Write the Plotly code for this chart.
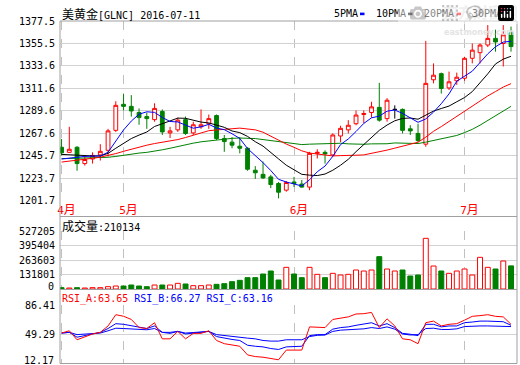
import plotly.graph_objects as go

# ---------------- data ----------------
dates = ['2016-04-20', '2016-04-21', '2016-04-22', '2016-04-25', '2016-04-26', '2016-04-27', '2016-04-28', '2016-04-29',
         '2016-05-02', '2016-05-03', '2016-05-04', '2016-05-05', '2016-05-06', '2016-05-09', '2016-05-10', '2016-05-11',
         '2016-05-12', '2016-05-13', '2016-05-16', '2016-05-17', '2016-05-18', '2016-05-19', '2016-05-20', '2016-05-23',
         '2016-05-24', '2016-05-25', '2016-05-26', '2016-05-27', '2016-05-30', '2016-05-31',
         '2016-06-01', '2016-06-02', '2016-06-03', '2016-06-06', '2016-06-07', '2016-06-08', '2016-06-09', '2016-06-10',
         '2016-06-13', '2016-06-14', '2016-06-15', '2016-06-16', '2016-06-17', '2016-06-20', '2016-06-21', '2016-06-22',
         '2016-06-23', '2016-06-24', '2016-06-27', '2016-06-28', '2016-06-29', '2016-06-30',
         '2016-07-01', '2016-07-04', '2016-07-05', '2016-07-06', '2016-07-07', '2016-07-08', '2016-07-11']

open_ = [1254, 1249, 1254, 1238, 1242.5, 1246.5, 1251, 1270.5, 1296, 1294, 1288, 1284, 1281, 1289, 1268, 1271,
         1281, 1268, 1274, 1277, 1285, 1262.5, 1259, 1255, 1253, 1231.5, 1227.5, 1225, 1218.5, 1212,
         1220, 1218, 1215, 1248, 1249, 1246.5, 1265, 1271, 1277, 1286, 1288, 1293, 1282, 1291, 1291, 1272,
         1267.5, 1257, 1320, 1326, 1312, 1319, 1321.5, 1341, 1346.5, 1354, 1360.5, 1355.5, 1366]
high = [1262, 1274, 1255, 1246, 1249, 1257, 1272, 1299, 1306, 1305, 1292, 1288, 1297, 1291, 1274, 1283,
        1284, 1279, 1291, 1286, 1286, 1266, 1264, 1264, 1254, 1235.5, 1240, 1227, 1220, 1221,
        1225, 1222, 1249.5, 1252, 1251, 1267.5, 1275, 1280.5, 1290, 1290, 1298.5, 1317, 1302, 1295, 1292, 1275.5,
        1277, 1358, 1336, 1327, 1328, 1327, 1342.5, 1355.5, 1355.5, 1373.5, 1369, 1373.5, 1372]
low = [1246, 1248.5, 1231, 1236, 1238, 1241, 1245, 1269, 1290, 1284, 1276, 1272, 1279, 1266, 1263, 1269,
       1266, 1266, 1272, 1272, 1261, 1249.5, 1253, 1248, 1231, 1223, 1223, 1214, 1204, 1210.5,
       1215, 1214.5, 1212, 1243, 1238, 1245, 1259, 1267.5, 1275.5, 1277.5, 1283, 1279, 1279, 1282, 1267.5, 1266,
       1259, 1254.5, 1316.5, 1306.5, 1310, 1315, 1319, 1336, 1336, 1352, 1347.5, 1333, 1347.5]
close = [1248.5, 1252, 1238, 1242, 1246, 1250, 1270, 1295, 1294, 1289.5, 1283, 1282, 1292, 1269, 1270, 1280.5,
         1267.5, 1276, 1276, 1282, 1262.5, 1259.5, 1256, 1253, 1232.5, 1229, 1224, 1217.5, 1210, 1219.5,
         1218.5, 1215, 1248, 1249, 1247.5, 1266, 1272.5, 1275.5, 1285.5, 1287, 1293.5, 1280.5, 1300, 1291, 1270.5, 1270,
         1260.5, 1316.5, 1324.5, 1311.5, 1318, 1322.5, 1341, 1349, 1354, 1360.5, 1357, 1364, 1352.5]

ma5 = [1242.5, 1243.5, 1244.5, 1245, 1245.3, 1245.5, 1249.1, 1260.5, 1270.9, 1279.6, 1286.3, 1288.7, 1288.1, 1283.1,
       1279.2, 1278.7, 1275.8, 1272.6, 1274, 1276.4, 1272.8, 1271.2, 1267.2, 1262.6, 1252.7, 1246, 1238.9, 1231.2,
       1222.6, 1220, 1217.9, 1216.1, 1222.2, 1230, 1235.6, 1245.1, 1256.6, 1262.1, 1269.4, 1277.3, 1282.8, 1284.4,
       1289.3, 1290.4, 1287.1, 1282.4, 1278.4, 1281.7, 1288.4, 1296.6, 1306.2, 1318.6, 1323.5, 1328.4, 1336.9,
       1345.4, 1352.3, 1356.9, 1357.6]
ma10 = [1247, 1246.5, 1246.2, 1246, 1245.5, 1245.5, 1248, 1253, 1258, 1262.5, 1265.9, 1268.9, 1274.3, 1277,
        1279.4, 1282.5, 1282.3, 1280.4, 1278.6, 1277.8, 1275.8, 1273.5, 1269.9, 1268.3, 1264.6, 1259.4, 1255.1,
        1249.2, 1242.6, 1236.4, 1232, 1227.5, 1226.7, 1226.3, 1227.8, 1231.5, 1236.4, 1242.2, 1249.7, 1256.5, 1264,
        1270.5, 1275.7, 1279.9, 1282.2, 1282.6, 1281.4, 1285.5, 1289.4, 1291.9, 1294.3, 1298.5, 1302.6, 1308.4,
        1316.8, 1325.8, 1335.5, 1340.2, 1343]
ma20 = [1239.5, 1240.3, 1241.3, 1242.3, 1243.2, 1244.3, 1245.7, 1247.8, 1250, 1252.2, 1254.3, 1256, 1257.6,
        1258.8, 1260, 1261.5, 1263.5, 1265.5, 1268, 1270.2, 1270.9, 1271.2, 1272.1, 1272.7, 1272, 1271, 1268.7,
        1264.8, 1260.6, 1257.1, 1253.9, 1250.5, 1248.3, 1247.3, 1246.2, 1245.5, 1245.8, 1245.7, 1246.2, 1246.5,
        1248, 1249, 1251.2, 1253.1, 1255, 1257.1, 1258.9, 1263.9, 1269.6, 1274.2, 1279.2, 1284.5, 1289.2, 1294.2,
        1299.5, 1304.2, 1308.5, 1312.9, 1316.2]
ma30 = [1242.8, 1243, 1243.2, 1243.4, 1243.6, 1243.8, 1244.2, 1245, 1246.3, 1247.3, 1248.3, 1249, 1250, 1251.5,
        1253, 1254.8, 1256.5, 1258, 1259.3, 1260.3, 1261.2, 1262, 1262.7, 1263, 1263, 1262.5, 1261.5, 1260.5,
        1259.6, 1258.9, 1257.9, 1256.6, 1257, 1257.2, 1257.3, 1257.8, 1257.9, 1257.3, 1257, 1256.9, 1257.3, 1257.2,
        1257.4, 1258.2, 1258.2, 1257.8, 1257.6, 1259, 1260.6, 1261.6, 1263.4, 1265.5, 1268.3, 1271.5, 1275.6,
        1280, 1284.4, 1289.3, 1294]

volume = [12120, 9090, 12120, 9090, 12120, 12120, 21210, 27270, 27270, 36360, 27270, 21210, 36360, 36360, 36360,
          51510, 45450, 30300, 30300, 36360, 42420, 48480, 66660, 78780, 103020, 103020, 136350, 163620, 81810,
          196950, 136350, 103020, 196950, 133320, 103020, 142410, 127260, 133320, 172710, 163620, 172710, 293910,
          181800, 163620, 172710, 118170, 127260, 460560, 209070, 163620, 142410, 163620, 181800, 127260, 287850,
          196950, 181800, 254520, 210134]

rsi_a = [50.5, 53.4, 41.9, 45.2, 49.3, 51.4, 59.6, 74.0, 72.0, 67.9, 57.5, 56.3, 63.7, 43.1, 43.1, 52.6, 43.1,
         50.1, 50.1, 53.4, 41.0, 36.9, 35.7, 33.6, 22.5, 20.4, 19.6, 17.5, 16.3, 28.7, 28.7, 28.7, 58.4, 58.4,
         57.5, 67.9, 69.9, 71.2, 74.9, 75.3, 76.9, 57.5, 68.7, 59.6, 43.1, 41.9, 36.9, 63.8, 65.8, 59.6, 61.7,
         62.5, 67.0, 71.9, 72.8, 74.0, 71.9, 71.2, 61.7]
rsi_b = [50.5, 51.4, 45.2, 47.2, 49.7, 51.4, 56.3, 62.5, 61.7, 59.6, 57.5, 56.3, 59.6, 51.4, 50.1, 52.6, 49.3,
         50.5, 51.4, 52.6, 46.0, 44.0, 42.3, 41.0, 34.9, 33.6, 32.8, 30.7, 29.5, 32.8, 32.8, 33.6, 47.2, 48.5,
         48.5, 55.5, 57.5, 58.4, 60.4, 61.7, 63.7, 59.6, 62.5, 57.5, 50.1, 49.0, 47.2, 61.7, 61.7, 58.4, 59.6,
         59.6, 63.8, 64.6, 65.8, 65.8, 65.0, 65.0, 60.4]
rsi_c = [50.5, 51.4, 48.5, 49.3, 50.1, 50.5, 53.4, 56.7, 56.3, 55.5, 54.7, 54.7, 56.3, 51.4, 51.4, 52.6, 50.5,
         51.4, 51.4, 52.6, 48.5, 47.2, 46.0, 45.2, 44.0, 43.1, 41.0, 40.2, 40.2, 41.9, 41.9, 41.9, 46.0, 47.6,
         48.0, 52.6, 54.2, 54.7, 55.5, 55.9, 57.5, 56.3, 58.4, 55.5, 49.3, 48.0, 48.5, 56.3, 56.7, 55.1, 55.1,
         55.9, 58.8, 59.6, 59.6, 59.6, 59.6, 59.6, 58.8]

price_ticks = [1201.7, 1223.7, 1245.7, 1267.6, 1289.6, 1311.6, 1333.6, 1355.5, 1377.5]
price_tick_labels = ['1201.7', '1223.7', '1245.7', '1267.6', '1289.6', '1311.6', '1333.6', '1355.5', '1377.5']
vol_ticks = [0, 131801, 263603, 395404, 527205]
vol_tick_labels = ['0', '131801', '263603', '395404', '527205']
rsi_ticks = [12.17, 49.29, 86.41]
rsi_tick_labels = ['12.17', '49.29', '86.41']
month_ticks = ['2016-04-20', '2016-05-02', '2016-06-01', '2016-07-01']
month_labels = ['4', '5', '6', '7']

title_name = '美黄金'
title_rest = '[GLNC] 2016-07-11'
vol_name = '成交量'
vol_last = '210134'
ma_names = ['5PMA', '10PMA', '20PMA', '30PMA']
rsi_names = ['RSI_A:63.65', 'RSI_B:66.27', 'RSI_C:63.16']

# ---------------- style ----------------
W, H = 520, 365
MONO = 'DejaVu Sans Mono'
CJK = 'Noto Sans CJK SC'
RED, GREEN, BLUE, BLACK = '#ff0000', '#008000', '#0000ff', '#000000'
GRID = '#d2d2d2'
BORDER = '#a0a0a0'
DASH = '#c0c0c0'

def px_x(p):
    return p / W

def px_y(p):
    return 1 - p / H

LEFT, RIGHT = 60, 517
x_dom = [px_x(LEFT), px_x(RIGHT)]

def cjk(t, size=12, color=None):
    c = f';color:{color}' if color else ''
    return f'<span style="font-family:{CJK};font-size:{size}px{c}">{t}</span>'

up_idx = [i for i in range(len(dates)) if close[i] > open_[i]]
dn_idx = [i for i in range(len(dates)) if close[i] < open_[i]]
dj_idx = [i for i in range(len(dates)) if close[i] == open_[i]]

def sub(arr, idx):
    return [arr[i] for i in idx]

fig = go.Figure()

for idx, lc, fc in [(up_idx, RED, '#ffffff'), (dn_idx, GREEN, GREEN), (dj_idx, BLACK, BLACK)]:
    fig.add_trace(go.Candlestick(
        x=sub(dates, idx), open=sub(open_, idx), high=sub(high, idx), low=sub(low, idx), close=sub(close, idx),
        increasing=dict(line=dict(color=lc, width=1), fillcolor=fc),
        decreasing=dict(line=dict(color=lc, width=1), fillcolor=fc),
        whiskerwidth=0, showlegend=False, xaxis='x', yaxis='y', hoverinfo='skip'))

for ma, col in [(ma30, GREEN), (ma20, RED), (ma10, BLACK), (ma5, BLUE)]:
    fig.add_trace(go.Scatter(x=dates, y=ma, mode='lines', line=dict(color=col, width=1),
                             showlegend=False, xaxis='x', yaxis='y', hoverinfo='skip'))

vol_fill = ['#ffffff' if close[i] >= open_[i] else GREEN for i in range(len(dates))]
vol_line = [RED if close[i] >= open_[i] else GREEN for i in range(len(dates))]
fig.add_trace(go.Bar(x=dates, y=volume, marker=dict(color=vol_fill, line=dict(color=vol_line, width=1)),
                     showlegend=False, xaxis='x2', yaxis='y2', hoverinfo='skip'))

for r, col in [(rsi_c, BLUE), (rsi_b, BLUE), (rsi_a, RED)]:
    fig.add_trace(go.Scatter(x=dates, y=r, mode='lines', line=dict(color=col, width=1),
                             showlegend=False, xaxis='x3', yaxis='y3', hoverinfo='skip'))

xcommon = dict(domain=x_dom, type='category', categoryorder='array', categoryarray=dates,
               range=[-0.2, 58.77], autorange=False, tickvals=month_ticks, showgrid=True, gridcolor=DASH,
               griddash='dash', gridwidth=1, zeroline=False, showline=False, ticks='', fixedrange=True,
               automargin=False)
ycommon = dict(showgrid=True, gridcolor=GRID, gridwidth=1, zeroline=False, showline=False, ticks='',
               tickfont=dict(family=MONO, size=10, color=BLACK), ticklabelstandoff=4, fixedrange=True,
               automargin=False, autorange=False)

fig.update_layout(
    width=W, height=H, margin=dict(l=0, r=0, t=0, b=0, autoexpand=False),
    paper_bgcolor='#ffffff', plot_bgcolor='#ffffff', showlegend=False, bargap=0.36,
    xaxis=dict(**xcommon, anchor='y', rangeslider=dict(visible=False),
               ticktext=[m + cjk('月', 12, RED) for m in month_labels],
               tickfont=dict(family=MONO, size=11, color=RED), ticklabelshift=5, ticklabelstandoff=1),
    xaxis2=dict(**xcommon, anchor='y2', matches='x', showticklabels=False),
    xaxis3=dict(**xcommon, anchor='y3', matches='x', showticklabels=False),
    yaxis=dict(**ycommon, domain=[px_y(200.7), px_y(21)], range=[1201.7, 1377.5],
               tickvals=price_ticks, ticktext=price_tick_labels),
    yaxis2=dict(**ycommon, domain=[px_y(289), px_y(231)], range=[0, 527205],
                tickvals=vol_ticks[1:], ticktext=vol_tick_labels[1:]),
    yaxis3=dict(**ycommon, domain=[px_y(363), px_y(305)], range=[12.17, 86.41],
                tickvals=rsi_ticks[1:], ticktext=rsi_tick_labels[1:]),
)

shapes = [
    dict(type='rect', xref='paper', yref='paper', x0=px_x(LEFT), x1=px_x(RIGHT), y0=px_y(363.5), y1=px_y(21),
         line=dict(color=BORDER, width=1), layer='above'),
    dict(type='line', xref='paper', yref='paper', x0=px_x(LEFT), x1=px_x(RIGHT), y0=px_y(216.5), y1=px_y(216.5),
         line=dict(color=BORDER, width=1), layer='above'),
    dict(type='line', xref='paper', yref='paper', x0=px_x(LEFT), x1=px_x(RIGHT), y0=px_y(289.5), y1=px_y(289.5),
         line=dict(color=BORDER, width=1), layer='above'),
]
# legend colour keys
key_x = [360, 408, 456.5, 505]
key_col = [BLUE, BLACK, RED, GREEN]
for kx, kc in zip(key_x, key_col):
    shapes.append(dict(type='rect', xref='paper', yref='paper', x0=px_x(kx), x1=px_x(kx + 4.5),
                       y0=px_y(15.2), y1=px_y(12.6), line=dict(width=0), fillcolor=kc))
fig.update_layout(shapes=shapes)

ann = []
# watermark
ann.append(dict(x=px_x(441), y=px_y(11.5), xref='paper', yref='paper', xanchor='left', yanchor='middle',
                text='<b>东方财富网</b>', showarrow=False, font=dict(family=CJK, size=15, color='#e0e0e0')))
ann.append(dict(x=px_x(442), y=px_y(33), xref='paper', yref='paper', xanchor='left', yanchor='middle',
                text='<b>eastmoney.com</b>', showarrow=False, font=dict(family='DejaVu Sans', size=8, color='#e4e4e4')))
# bottom-edge axis labels (drawn slightly above the panel floor, as in the source chart)
ann.append(dict(x=px_x(56), y=px_y(286.5), xref='paper', yref='paper', xanchor='right', yanchor='middle',
                text=vol_tick_labels[0], showarrow=False, font=dict(family=MONO, size=10, color=BLACK)))
ann.append(dict(x=px_x(56), y=px_y(360.5), xref='paper', yref='paper', xanchor='right', yanchor='middle',
                text=rsi_tick_labels[0], showarrow=False, font=dict(family=MONO, size=10, color=BLACK)))
# title
ann.append(dict(x=px_x(60), y=px_y(14), xref='paper', yref='paper', xanchor='left', yanchor='middle',
                text=cjk(title_name) + title_rest, showarrow=False,
                font=dict(family=MONO, size=10, color=BLACK)))
# MA legend labels
leg_x = [331.5, 374, 421.5, 470]
for lx, name in zip(leg_x, ma_names):
    ann.append(dict(x=px_x(lx), y=px_y(14), xref='paper', yref='paper', xanchor='left', yanchor='middle',
                    text=name, showarrow=False, font=dict(family=MONO, size=10, color=BLACK)))
# volume header
ann.append(dict(x=px_x(60), y=px_y(225), xref='paper', yref='paper', xanchor='left', yanchor='middle',
                text=cjk(vol_name) + ':' + vol_last, showarrow=False,
                font=dict(family=MONO, size=10, color=BLACK)))
# RSI header
rsi_cols = [RED, BLUE, BLUE]
rsi_text = ' '.join(f'<span style="color:{c}">{t}</span>' for t, c in zip(rsi_names, rsi_cols))
ann.append(dict(x=px_x(60), y=px_y(298.5), xref='paper', yref='paper', xanchor='left', yanchor='middle',
                text=rsi_text, showarrow=False, font=dict(family=MONO, size=10, color=RED)))
fig.update_layout(annotations=ann)

fig.write_html('out.html', post_script="document.body.style.margin='0';document.body.style.overflow='hidden';")
